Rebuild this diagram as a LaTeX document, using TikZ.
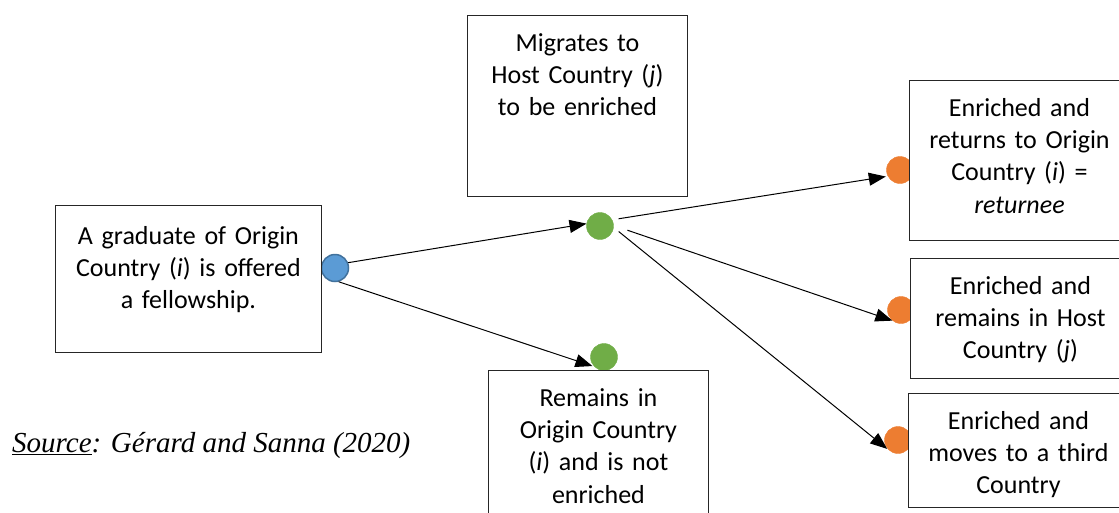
\documentclass[tikz,border=0pt]{standalone}
\usepackage{fontspec}
\setmainfont{Carlito}
\newfontfamily\timesfont{Liberation Serif}
\usetikzlibrary{arrows.meta}

\definecolor{dotblue}{HTML}{5B9BD5}
\definecolor{dotbluedark}{HTML}{41719C}
\definecolor{dotgreen}{HTML}{70AD47}
\definecolor{dotorange}{HTML}{ED7D31}

\begin{document}
\begin{tikzpicture}[x=1pt, y=-1pt,
    box/.style={draw=black!85, line width=0.9pt, fill=white, anchor=north west,
        inner sep=0pt, align=center, text height=36pt,
        font=\fontsize{26}{32.2}\selectfont},
    dot/.style={circle, inner sep=0pt, minimum size=27pt, fill=#1, draw=#1},
    arr/.style={-{Triangle[length=17pt,width=13pt]}, line width=1pt}]
    \useasboundingbox (0,0) rectangle (1119,512);

    % Draw the dots
    \node[dot=dotblue, draw=dotbluedark, line width=1.5pt] (b) at (335,268) {};
    \node[dot=dotgreen] (g1) at (600,226) {};
    \node[dot=dotgreen] (g2) at (604,357) {};
    \node[dot=dotorange] (o1) at (900,170) {};
    \node[dot=dotorange] (o2) at (901,310) {};
    \node[dot=dotorange] (o3) at (898,440) {};

    % Draw the arrows
    \draw[arr] (b.22) -- (g1.170);
    \draw[arr, shorten >=2pt] (b.-75) -- (g2.225);
    \draw[arr, shorten <=6.5pt, shorten >=2pt] (g1.27) -- (o1.207);
    \draw[arr, shorten <=14.5pt] (g1.2) -- (o2.231);
    \draw[arr, shorten <=6.5pt, shorten >=3pt] (g1.-6) -- (o3.232);

    % Draw the boxes
    \node[box, text width=266pt, text height=39pt, text depth=108pt] (grad) at (55,205)
        {A graduate of Origin\\Country (\textit{i}) is offered\\a fellowship.};
    \node[box, text width=220pt, text depth=145pt] (host) at (467,15)
        {Migrates to\\Host Country (\textit{j})\\to be enriched};
    \node[box, text width=220pt, text depth=114pt] (stay) at (488,370)
        {Remains in\\Origin Country\\(\textit{i}) and is not\\enriched};
    \node[box, text width=220pt, text depth=124pt] (ret) at (909,80)
        {Enriched and\\returns to Origin\\Country (\textit{i}) =\\\textit{returnee}};
    \node[box, text width=220pt, text depth=84pt] (rem) at (910,258)
        {Enriched and\\remains in Host\\Country (\textit{j})};
    \node[box, text width=220pt, text depth=78pt] (third) at (908,393)
        {Enriched and\\moves to a third\\Country};

    % Source line
    \node[anchor=base west, inner sep=0pt, font=\timesfont\itshape\fontsize{29}{34}\selectfont]
        (src) at (12,452) {\underline{Source}: Gérard and Sanna (2020)};
\end{tikzpicture}
\end{document}
